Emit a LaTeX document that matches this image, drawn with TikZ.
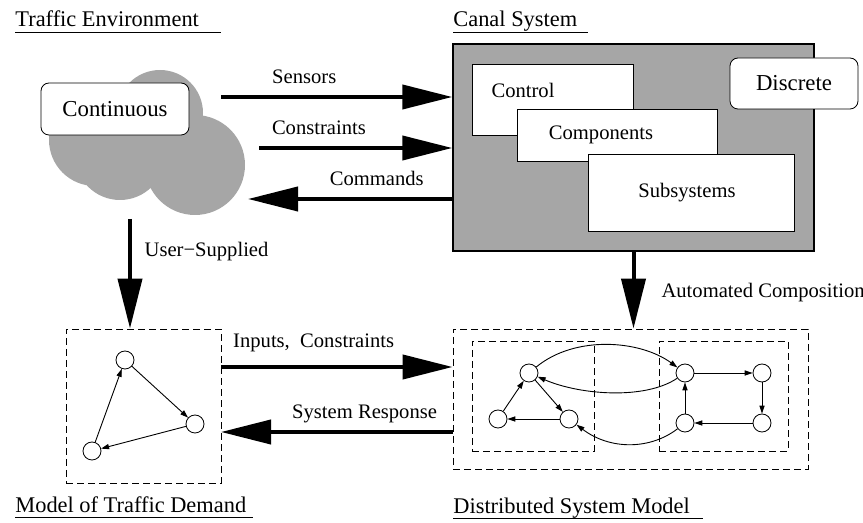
\documentclass[tikz,border=0pt]{standalone}
\usepackage{fontspec}
\setmainfont{Liberation Serif}
\usetikzlibrary{arrows.meta,shapes}
\definecolor{boxgray}{gray}{0.65}

\begin{document}
\begin{tikzpicture}[x=0.5pt,y=-0.5pt,font=\fontsize{10.3}{12}\selectfont]
    \useasboundingbox (0,0) rectangle (863,523);

    % headers
    \begin{scope}[every node/.style={anchor=base west,inner sep=0pt,font=\fontsize{11.2}{13}\selectfont}]
      \node (envhead)    at (15,27)  {Traffic Environment};
      \node (canalhead)  at (453,27) {Canal System};
      \node (demandhead) at (15,513) {Model of Traffic Demand};
      \node (disthead)   at (453,514) {Distributed System Model};
    \end{scope}
    \draw (envhead.base west) ++(0,5) -- ++(206,0);
    \draw (canalhead.base west) ++(0,5) -- ++(135,0);
    \draw (demandhead.base west) ++(0,4) -- ++(238,0);
    \draw (disthead.base west) ++(0,4) -- ++(250,0);

    % traffic environment (cloud)
    \fill[boxgray] (160,113) circle[radius=43] (195,165) circle[radius=50]
      (95,140) circle[radius=46] (120,155) circle[radius=45];
    \node[draw,rounded corners=4pt,fill=white,minimum width=74pt,minimum height=26pt,
      font=\fontsize{11.4}{13}\selectfont] (cont) at (115,109) {Continuous};

    % canal system
    \node[draw,fill=boxgray,line width=0.7pt,inner sep=0pt,minimum width=180.5pt,minimum height=103.5pt] (canal) at (633.5,147.5) {};
    \begin{scope}[every node/.style={draw,fill=white,inner sep=0pt}]
      \node[minimum width=80.5pt,minimum height=35.5pt] (control) at (552.5,99.5) {};
      \node[minimum width=100pt,minimum height=26pt] (comp) at (617,135) {};
      \node[minimum width=103pt,minimum height=38.5pt] (subsys) at (691,192.5) {};
      \node[rounded corners=4pt,minimum width=64pt,minimum height=25.5pt,
        font=\fontsize{11.4}{13}\selectfont] (discrete) at (794,83.5) {Discrete};
    \end{scope}
    \node (controltxt) at (523,90)  {Control};
    \node (comptxt)    at (601,135) {Components};
    \node (subsystxt)  at (687,193) {Subsystems};

    % models
    \begin{scope}[every node/.style={draw,inner sep=0pt,dash pattern=on 3.5pt off 2pt}]
      \node[minimum width=77.5pt,minimum height=77pt] (demand) at (143.5,406) {};
      \node[minimum width=177.5pt,minimum height=70pt] (distmodel) at (630.5,399) {};
      \node[minimum width=61pt,minimum height=55pt] (distleft) at (533,396) {};
      \node[minimum width=64.5pt,minimum height=55pt] (distright) at (723.5,396) {};
    \end{scope}

    % big arrows
    \coordinate (sensfrom) at (221,97);
    \coordinate (consfrom) at (259,148);
    \coordinate (cmdto)    at (248,199);
    \coordinate (inpfrom)  at (221,367);
    \coordinate (respto)   at (221,432);
    \coordinate (userfrom) at (130,219);
    \begin{scope}[>={Triangle[length=25pt,width=12pt]},every edge/.style={draw,line width=2pt}]
      \begin{scope}[every node/.style={anchor=base,yshift=6.5pt}]
        \path[->] (sensfrom) edge node[pos=0.36] {Sensors} (sensfrom -| canal.west);
        \path[->] (consfrom) edge node[pos=0.31] {Constraints} (consfrom -| canal.west);
        \path[->] (cmdto -| canal.west) edge node[pos=0.37] {Commands} (cmdto);
        \path[->] (inpfrom) edge node[pos=0.40,yshift=3pt] {Inputs,\ \ Constraints} (inpfrom -| distmodel.west);
        \path[->] (respto -| distmodel.west) edge node[pos=0.38] {System Response} (respto);
      \end{scope}
      \path[->] (userfrom) edge node[pos=0.3,anchor=west,xshift=3pt] {User−Supplied} (userfrom |- demand.north);
      \path[->] (canal.south) edge node[pos=0.53,anchor=west,xshift=9.7pt] {Automated Composition} (canal.south |- distmodel.north);
    \end{scope}

    % graphs
    \begin{scope}[every node/.style={circle,draw,inner sep=0pt,minimum size=9pt}]
      \node (t1) at (125,360) {};
      \node (t2) at (195,424) {};
      \node (t3) at (92,451)  {};
      \node (a) at (529,373) {};
      \node (b) at (498,419) {};
      \node (c) at (569,419) {};
      \node (d) at (685,373) {};
      \node (e) at (762,373) {};
      \node (f) at (762,423) {};
      \node (g) at (685,423) {};
    \end{scope}
    \begin{scope}[>={Triangle[length=4pt,width=2.6pt]},every edge/.style={draw,line width=0.45pt}]
      \path[->] (t1) edge (t2) (t2) edge (t3) (t3) edge (t1);
      \path[->] (a) edge (c) (b) edge (a) (c) edge (b);
      \path[->] (d) edge (e) (e) edge (f) (f) edge (g) (g) edge (d);
      \draw[->,line width=0.45pt] (a) .. controls (575,335) and (640,340) .. (d);
      \draw[->,line width=0.45pt] (d) .. controls (645,400) and (580,395) .. (a);
      \draw[->,line width=0.45pt] (g) .. controls (650,450) and (610,450) .. (c);
    \end{scope}
  \end{tikzpicture}
\end{document}
